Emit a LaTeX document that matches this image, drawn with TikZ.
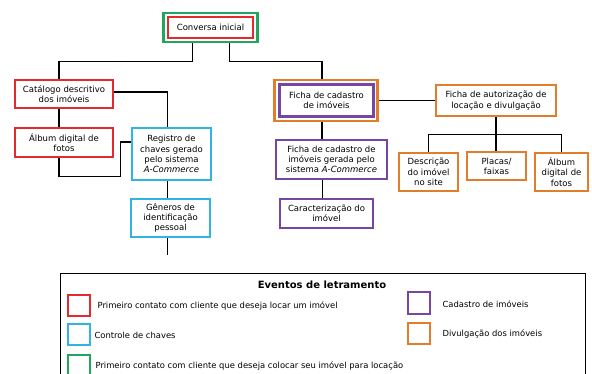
\documentclass[tikz,border=0pt]{standalone}
\usepackage{fontspec}
\setmainfont{DejaVu Sans}
\definecolor{evred}{HTML}{E42A2F}
\definecolor{evgreen}{HTML}{22A55C}
\definecolor{evcyan}{HTML}{2FB4E6}
\definecolor{evpurple}{HTML}{7547A3}
\definecolor{evorange}{HTML}{E27D2C}
\begin{document}
\begin{tikzpicture}[x=1pt,y=-1pt,line width=1.2pt,
	box/.style={draw,line width=2.3pt,align=center,inner sep=0pt,fill=white,font=\fontsize{8.5}{10.3}\selectfont},
	legsq/.style={draw,line width=2pt,minimum width=22,minimum height=21,inner sep=0pt},
	legtext/.style={anchor=west,inner sep=0pt,font=\fontsize{8.4}{9}\selectfont}]
	\clip (0,0) rectangle (592,374);
	% eventos: caixas
	\node[box,draw=evgreen,minimum width=94,minimum height=29] (convO) at (210.5,27.5) {};
	\node[box,draw=evred,minimum width=85,minimum height=21] (conv) at (210.5,27.5) {Conversa inicial};
	\node[box,draw=evred,minimum width=98,minimum height=28] (cat) at (64,94) {Catálogo descritivo\\dos imóveis};
	\node[box,draw=evred,minimum width=98,minimum height=29] (alb) at (64,142.5) {Álbum digital de\\fotos};
	\node[box,draw=evcyan,minimum width=79,minimum height=52] (reg) at (171.5,154) {Registro de\\chaves gerado\\pelo sistema\\\emph{A-Commerce}};
	\node[box,draw=evcyan,minimum width=79,minimum height=38] (gen) at (170.5,218) {Gêneros de\\identificação\\pessoal};
	\node[box,draw=evorange,minimum width=103,minimum height=41] (fcadO) at (326,100.5) {};
	\node[box,draw=evpurple,minimum width=94,minimum height=32] (fcad) at (326.5,100.5) {Ficha de cadastro\\de imóveis};
	\node[box,draw=evorange,minimum width=120,minimum height=31] (faut) at (496,100.5) {Ficha de autorização de\\locação e divulgação};
	\node[box,draw=evorange,minimum width=59,minimum height=38] (desc) at (428.5,172) {Descrição\\do imóvel\\no site};
	\node[box,draw=evorange,minimum width=59,minimum height=28] (plac) at (496.5,166) {Placas/\\faixas};
	\node[box,draw=evorange,minimum width=53,minimum height=38] (alb2) at (561.5,172) {Álbum\\digital de\\fotos};
	\node[box,draw=evpurple,minimum width=111,minimum height=39] (fger) at (331.5,159.5) {Ficha de cadastro de\\imóveis gerada pelo\\sistema \emph{A-Commerce}};
	\node[box,draw=evpurple,minimum width=93,minimum height=29] (car) at (326.5,213.5) {Caracterização do\\imóvel};
	\coordinate (genend) at (170.5,255);
	% ligacoes
	\draw ([xshift=-18pt]convO.south) -- ++(0,18) -| ([xshift=-5pt]cat.north);
	\draw ([xshift=19pt]convO.south) -- ++(0,18) -| ([xshift=-4pt]fcadO.north);
	\draw ([yshift=2pt]cat.east) -| ([xshift=-4pt]reg.north);
	\draw ([xshift=-5pt]cat.south) -- ([xshift=-5pt]alb.north);
	\draw ([xshift=-5pt]alb.south) -- ++(0,18) -| ([xshift=-10pt,yshift=12pt]reg.west) -- ([yshift=12pt]reg.west);
	\draw ([xshift=-4pt]reg.south) -- ([xshift=-4pt]reg.south |- gen.north);
	\draw ([xshift=-3pt]gen.south) -- ([xshift=-3pt]genend);
	\draw (fcadO.east) -- (faut.west);
	\draw (faut.south) -- ++(0,17) coordinate (split);
	\draw (split) -| (desc.north);
	\draw (split) -- (split |- plac.north);
	\draw (split) -| (alb2.north);
	\draw ([xshift=-4pt]fcadO.south) -- ([xshift=-4pt]fcadO.south |- fger.north);
	\draw ([xshift=-9pt]fger.south) -- ([xshift=-9pt]fger.south |- car.north);
	% legenda
	\node[draw,line width=1pt,minimum width=525,minimum height=120,anchor=north west,inner sep=0pt] (legend) at (59.5,273) {};
	\node[font=\bfseries\fontsize{10}{11}\selectfont] (legtitle) at (322,284.5) {Eventos de letramento};
	\foreach \c/\x/\y/\tx/\t in {evred/79/305.5/97/Primeiro contato com cliente que deseja locar um imóvel,
		evcyan/78.5/334/94/Controle de chaves,
		evgreen/78.5/365/95/Primeiro contato com cliente que deseja colocar seu imóvel para locação,
		evpurple/418.5/303/442/Cadastro de imóveis,
		evorange/418.5/333.5/442/Divulgação dos imóveis}
	{
		\node[legsq,draw=\c] (sq\c) at (\x,\y) {};
		\node[legtext] (lt\c) at (\tx,\y+1) {\t};
	}
\end{tikzpicture}
\end{document}
